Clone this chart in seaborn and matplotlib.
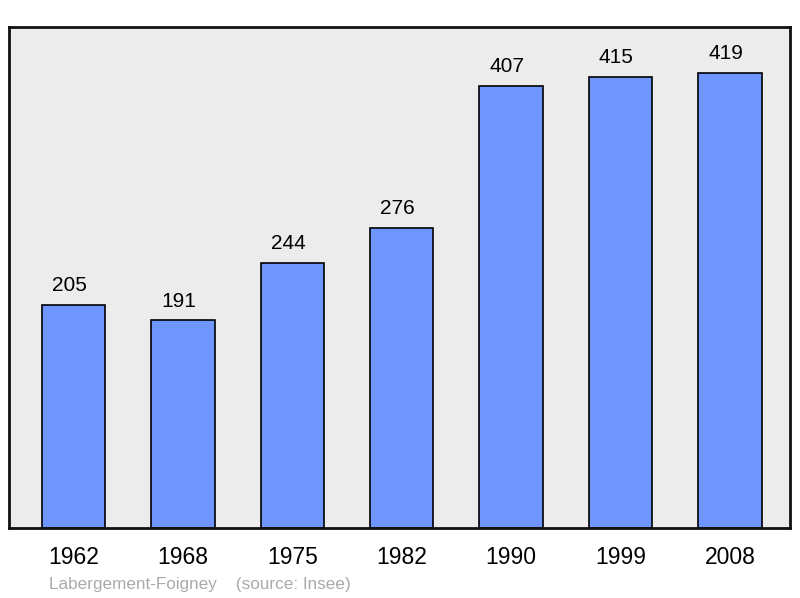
import matplotlib
matplotlib.use("Agg")
import matplotlib.pyplot as plt
import seaborn as sns
import pandas as pd

years = ["1962", "1968", "1975", "1982", "1990", "1999", "2008"]
population = [205, 191, 244, 276, 407, 415, 419]
commune = "Labergement-Foigney"
source = "(source: Insee)"

df = pd.DataFrame({"year": years, "pop": population})

sns.set_style("white")
plt.rcParams["font.family"] = ["Liberation Sans", "DejaVu Sans"]

fig = plt.figure(figsize=(8, 5.98), dpi=100)
ax = fig.add_axes([9 / 800, 70 / 598, 781 / 800, 501 / 598])
ax.set_facecolor("#ececec")

sns.barplot(data=df, x="year", y="pop", color="#6f96ff", saturation=1,
            width=0.58, edgecolor="black", linewidth=1.2, ax=ax)

# value labels, slightly left of centre like the original
for bar, val in zip(ax.patches, population):
    ax.annotate(str(val), (bar.get_x() + bar.get_width() / 2, bar.get_height()),
                xytext=(-3, 7), textcoords="offset points",
                ha="center", va="bottom", fontsize=15, color="black")

ax.set_xlim(-0.59, 6.55)
ax.set_ylim(0, 461)
ax.set_xlabel("")
ax.set_ylabel("")
ax.set_yticks([])
ax.tick_params(axis="x", length=0, pad=13, labelsize=16.5, labelcolor="black")
for s in ax.spines.values():
    s.set_visible(True)
    s.set_linewidth(2)
    s.set_color("#111111")

fig.text(49 / 800, 1 - 584 / 598, commune + "    " + source, fontsize=12.3,
         color="#aaaaaa", va="center", ha="left")

fig.savefig("out.png", dpi=100)
